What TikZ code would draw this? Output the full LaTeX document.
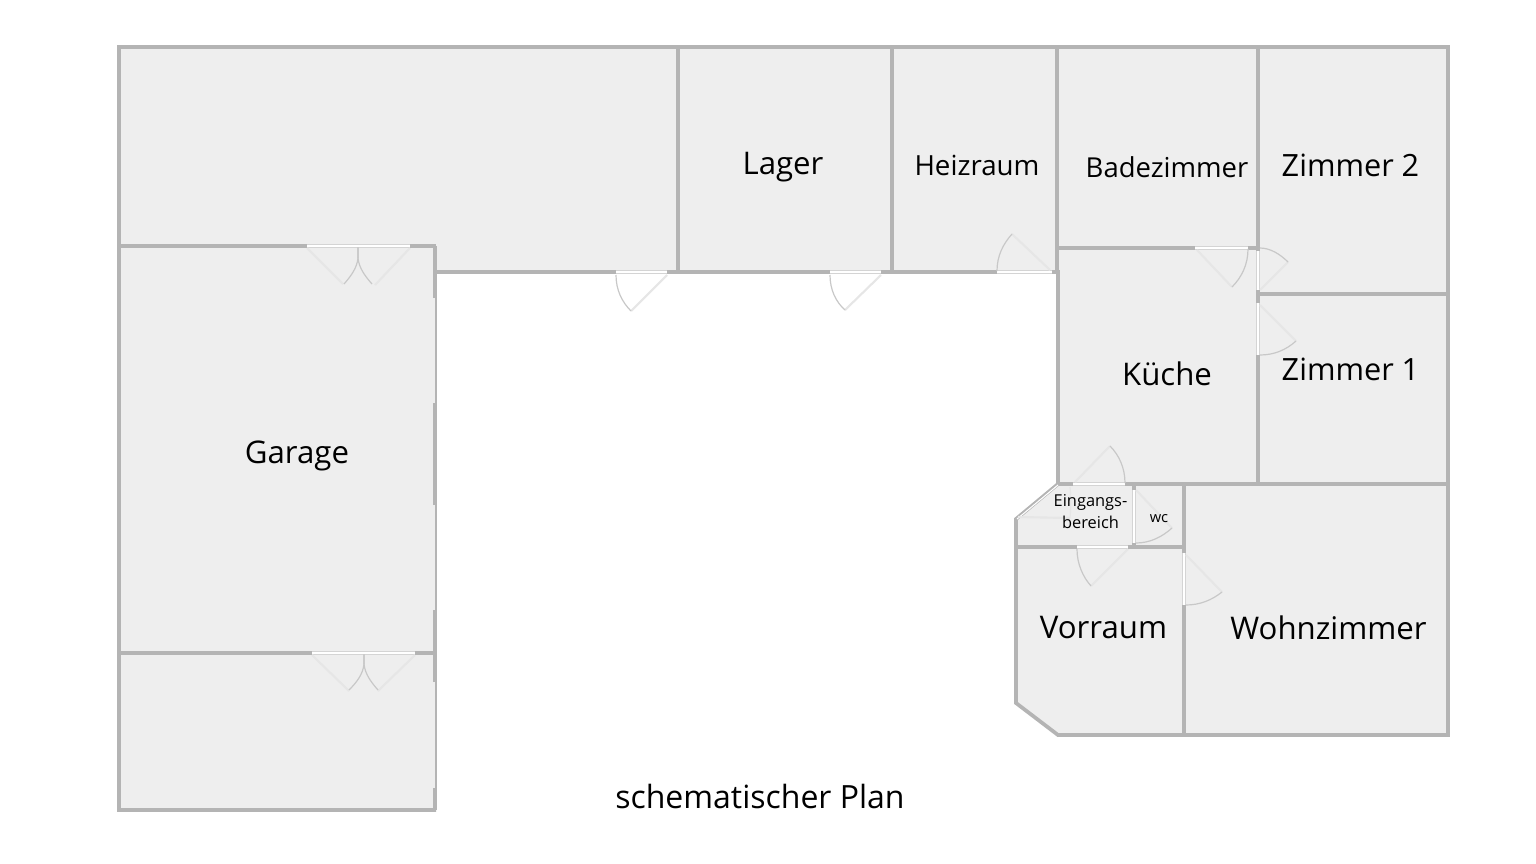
\documentclass[tikz,border=0pt]{standalone}
\usepackage{fontspec}
\setmainfont{Open Sans}
\definecolor{wallgray}{HTML}{B4B4B4}
\definecolor{gapgray}{HTML}{D4D4D4}
\definecolor{roomgray}{HTML}{EEEEEE}
\definecolor{leafgray}{HTML}{E6E6E6}
\definecolor{arcgray}{HTML}{C8C8C8}
\tikzset{
  every picture/.style={line width=0.75pt},
  wall/.style={draw=wallgray,line width=2.8pt},
  thinwall/.style={draw=wallgray,line width=1.5pt},
  doorgap/.style={draw=white,line width=0.8pt,preaction={draw=gapgray,line width=2.4pt}},
  doorjamb/.style={draw=wallgray!70,line width=1pt},
  doorleaf/.style={draw=leafgray,line width=1.6pt},
  doorarc/.style={draw=arcgray,line width=0.9pt},
  roomlabel/.style={inner sep=0pt,text=black}
}
\begin{document}
\begin{tikzpicture}[x=0.75pt,y=0.75pt,yscale=-1,xscale=1]
\useasboundingbox (0,0) rectangle (1536,864);

%floor
\fill [roomgray] (119,47) -- (1448,47) -- (1448,735) -- (1058,735) -- (1016,703) -- (1016,519) -- (1058,484) -- (1058,272) -- (436,272) -- (436,810) -- (119,810) -- cycle ;

%outer walls
\draw [thinwall,line width=2.8pt,line join=miter] (436,272) -- (1058,272) -- (1058,484) -- (1016,519) -- (1016,703) -- (1058,735) -- (1448,735) -- (1448,47) -- (119,47) -- (119,810) -- (436,810) ;
%garage east wall
\draw [thinwall] (436,246) -- (436,810) ;
\draw [wall,line width=3pt] (434.5,246) -- (434.5,298) ;
\draw [wall,line width=3pt] (434.5,403) -- (434.5,505) ;
\draw [wall,line width=3pt] (434.5,610) -- (434.5,682) ;
\draw [wall,line width=3pt] (434.5,788) -- (434.5,810) ;

%inner walls
\draw [wall] (119,246) -- (436,246) ;
\draw [wall] (119,653) -- (436,653) ;
\draw [wall] (678,47) -- (678,272) ;
\draw [wall] (892,47) -- (892,272) ;
\draw [wall] (1057,47) -- (1057,272) ;
\draw [wall] (1258,47) -- (1258,484) ;
\draw [wall] (1058,248) -- (1258,248) ;
\draw [wall] (1258,294) -- (1448,294) ;
\draw [wall] (1058,484) -- (1448,484) ;
\draw [wall] (1184,484) -- (1184,735) ;
\draw [wall] (1016,547) -- (1184,547) ;
\draw [wall] (1134,484) -- (1134,547) ;
%entrance, double line
\draw [draw=white,line width=0.8pt] (1058,485) -- (1017,519) ;

%door openings
\draw [doorgap] (307,246) -- (410,246) ;
\draw [doorgap] (312,653) -- (415,653) ;
\draw [doorgap] (616,272) -- (667,272) ;
\draw [doorgap] (830,272) -- (881,272) ;
\draw [doorgap] (997,272) -- (1052,272) ;
\draw [doorgap] (1195,248) -- (1248,248) ;
\draw [doorgap] (1258,251) -- (1258,290) ;
\draw [doorgap] (1258,303) -- (1258,355) ;
\draw [doorgap] (1073,484) -- (1125,484) ;
\draw [doorgap] (1077,547) -- (1128,547) ;
\draw [doorgap] (1134,490) -- (1134,543) ;
\draw [doorgap] (1184,553) -- (1184,605) ;

%door leaves
\draw [doorleaf] (307,248) -- (343,284) ;
\draw [doorleaf] (410,248) -- (375,285) ;
\draw [doorleaf] (312,655) -- (349,691) ;
\draw [doorleaf] (415,655) -- (378,691) ;
\draw [doorleaf] (667,275) -- (631,311) ;
\draw [doorleaf] (881,275) -- (845,310) ;
\draw [doorleaf] (1050,270) -- (1012,234) ;
\draw [doorleaf] (1197,250) -- (1232,287) ;
\draw [doorleaf] (1260,290) -- (1288,262) ;
\draw [doorleaf] (1260,305) -- (1296,341) ;
\draw [doorleaf] (1075,482) -- (1110,446) ;
\draw [doorleaf] (1128,549) -- (1091,586) ;
\draw [doorleaf] (1136,490) -- (1172,528) ;
\draw [doorleaf] (1186,555) -- (1222,592) ;
\draw [doorleaf] (1018,517) -- (1070,518) ;

%door arcs
\draw [doorjamb] (358,247) -- (358,258) ;
\draw [doorarc] (358,258) .. controls (357,268) and (351,276) .. (344,284) ;
\draw [doorarc] (358,258) .. controls (359,268) and (365,276) .. (372,284) ;
\draw [doorjamb] (364,654) -- (364,664) ;
\draw [doorarc] (364,664) .. controls (363,674) and (357,682) .. (349,690) ;
\draw [doorarc] (364,664) .. controls (365,674) and (371,682) .. (378,690) ;
\draw [doorarc] (616,275) .. controls (616,290) and (622,302) .. (631,311) ;
\draw [doorarc] (830,275) .. controls (830,290) and (836,302) .. (845,310) ;
\draw [doorarc] (997,271) .. controls (997,256) and (1003,244) .. (1012,234) ;
\draw [doorarc] (1248,249) .. controls (1248,264) and (1242,277) .. (1232,287) ;
\draw [doorarc] (1260,248) .. controls (1270,248) and (1280,254) .. (1288,262) ;
\draw [doorarc] (1260,355) .. controls (1274,355) and (1286,350) .. (1296,341) ;
\draw [doorarc] (1125,483) .. controls (1125,468) and (1119,455) .. (1110,446) ;
\draw [doorarc] (1077,549) .. controls (1077,564) and (1083,577) .. (1091,586) ;
\draw [doorarc] (1136,543) .. controls (1150,543) and (1162,537) .. (1172,528) ;
\draw [doorarc] (1186,605) .. controls (1200,605) and (1212,600) .. (1222,592) ;
\draw [doorarc,draw=leafgray] (1070,487) .. controls (1071,497) and (1071,507) .. (1070,518) ;

%labels
\node [roomlabel,font=\fontsize{23.4}{26}\selectfont] (lager) at (783,167) {Lager};
\node [roomlabel,font=\fontsize{20.8}{24}\selectfont] (heizraum) at (977,165) {Heizraum};
\node [roomlabel,font=\fontsize{20.6}{24}\selectfont] (badezimmer) at (1167,167) {Badezimmer};
\node [roomlabel,font=\fontsize{23}{26}\selectfont] (zimmer2) at (1350.5,165) {Zimmer 2};
\node [roomlabel,font=\fontsize{23}{26}\selectfont] (zimmer1) at (1350.5,369) {Zimmer 1};
\node [roomlabel,font=\fontsize{23.4}{26}\selectfont] (kueche) at (1167,374) {Küche};
\node [roomlabel,font=\fontsize{23.4}{26}\selectfont] (garage) at (297,456) {Garage};
\node [roomlabel,font=\fontsize{12.3}{16.5}\selectfont,align=center] (eingang) at (1090.5,512) {Eingangs-\\bereich};
\node [roomlabel,font=\fontsize{11}{12}\selectfont] (wc) at (1159,519) {wc};
\node [roomlabel,font=\fontsize{23.4}{26}\selectfont] (vorraum) at (1103.5,628) {Vorraum};
\node [roomlabel,font=\fontsize{23.4}{26}\selectfont] (wohnzimmer) at (1328.5,628) {Wohnzimmer};
\node [roomlabel,font=\fontsize{24}{26}\selectfont] (plan) at (760,796) {schematischer Plan};

\end{tikzpicture}
\end{document}
